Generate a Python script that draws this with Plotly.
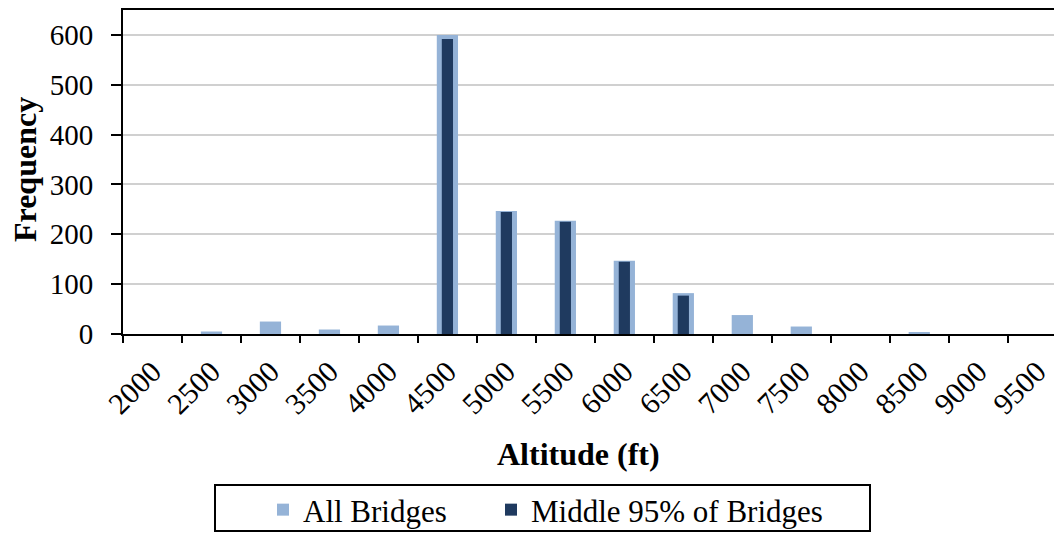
import plotly.graph_objects as go

altitudes = ["2000", "2500", "3000", "3500", "4000", "4500", "5000", "5500",
             "6000", "6500", "7000", "7500", "8000", "8500", "9000", "9500"]
all_bridges = [0, 5, 25, 9, 17, 600, 247, 227, 147, 82, 38, 15, 0, 3, 0, 0]
middle_95 = [0, 0, 0, 0, 0, 592, 245, 225, 145, 77, 0, 0, 0, 0, 0, 0]
y_ticks = [0, 100, 200, 300, 400, 500, 600]

FONT = "Liberation Serif"
W, H = 1062, 539
OFF = 8  # page body margin offset
# plot area in screen pixels: left 123, top 10, bottom 334, right edge of window
L = 123 - OFF
T = 10 - OFF
B = H - (334 - OFF)
R = OFF
pw = W - L - R
ph = H - T - B


def px_x(x):
    return (x - OFF - L) / pw


def px_y(y):
    return (H - B - (y - OFF)) / ph


fig = go.Figure()
fig.add_trace(go.Bar(x=altitudes, y=all_bridges, name="All Bridges",
                     marker=dict(color="#95B3D7", line=dict(width=0)), width=0.36,
                     legend="legend"))
fig.add_trace(go.Bar(x=altitudes, y=middle_95, name="Middle 95% of Bridges",
                     marker=dict(color="#1F3A5F", line=dict(width=0)), width=0.19,
                     legend="legend2"))

leg_common = dict(orientation="h", xanchor="left", yanchor="top", borderwidth=0,
                  font=dict(size=31), bgcolor="rgba(0,0,0,0)")

fig.update_layout(
    width=W, height=H,
    barmode="overlay",
    paper_bgcolor="white", plot_bgcolor="white",
    margin=dict(l=L, r=R, t=T, b=B, autoexpand=False),
    font=dict(family=FONT, size=31, color="black"),
    showlegend=True,
    legend=dict(x=px_x(263), y=px_y(483), **leg_common),
    legend2=dict(x=px_x(491), y=px_y(483), **leg_common),
    xaxis=dict(type="category", range=[-0.5, 15.42], tickson="boundaries",
               ticks="outside", ticklen=7, tickwidth=2, tickcolor="black",
               showline=True, linecolor="black", linewidth=2, mirror=True,
               tickangle=-45, showgrid=False, tickfont=dict(size=30),
               ticklabelstandoff=6),
    yaxis=dict(range=[0, 650], tickvals=y_ticks, ticks="outside", ticklen=10,
               tickwidth=2, tickcolor="black", showline=True, linecolor="black",
               linewidth=2, showgrid=True, gridcolor="#D0D0D0", gridwidth=1.5,
               zeroline=False, tickfont=dict(size=29), ticklabelstandoff=12),
    shapes=[dict(type="rect", xref="paper", yref="paper",
                 x0=px_x(215), x1=px_x(870), y0=px_y(485), y1=px_y(531),
                 line=dict(color="black", width=2), fillcolor="rgba(0,0,0,0)")],
    annotations=[
        dict(text="<b>Frequency</b>", x=px_x(25), y=px_y(170), xref="paper", yref="paper",
             showarrow=False, textangle=-90, font=dict(size=32),
             xanchor="center", yanchor="middle"),
        dict(text="<b>Altitude (ft)</b>", x=px_x(578), y=px_y(454), xref="paper", yref="paper",
             showarrow=False, font=dict(size=32), xanchor="center", yanchor="middle"),
    ],
)

fig.write_html("out.html")
